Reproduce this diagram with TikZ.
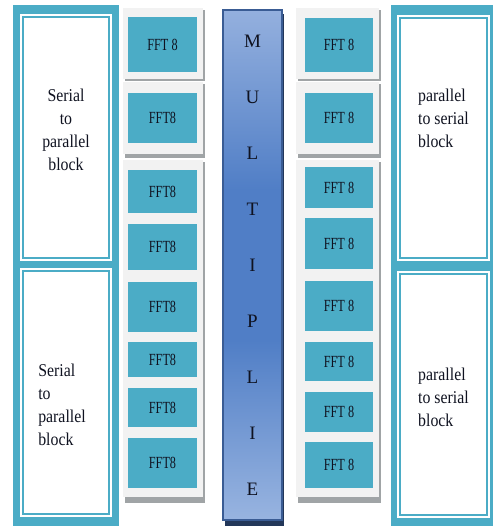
\documentclass[tikz,border=0pt]{standalone}
\usepackage{fontspec}
\setmainfont{Liberation Serif}
\newfontfamily\fftfont{Liberation Serif}[FakeStretch=0.72]
\newfontfamily\sidefont{Liberation Serif}[FakeStretch=0.88]
\definecolor{aqua}{RGB}{75,172,198}
\definecolor{panel}{RGB}{242,242,242}
\definecolor{panelshade}{RGB}{160,164,166}
\definecolor{multtop}{RGB}{148,176,222}
\definecolor{multmid}{RGB}{80,126,198}
\definecolor{multbot}{RGB}{152,180,224}
\definecolor{multedge}{RGB}{58,92,148}
\definecolor{inkdark}{RGB}{15,18,32}

\begin{document}
\begin{tikzpicture}[x=1pt, y=-1pt,
  fftbox/.style={rectangle, fill=aqua, text=inkdark, inner sep=0pt,
                 font=\fftfont\fontsize{17}{19}\selectfont},
  spbox/.style={rectangle, fill=white, draw=aqua, line width=2pt,
                double=white, double distance=2pt},
  sidetext/.style={align=left, text=inkdark,
                   font=\sidefont\fontsize{18}{23}\selectfont}
]
  \useasboundingbox (0,0) rectangle (493,526);

  % Outer aqua frames
  \fill[aqua] (13,5) rectangle (119,526);
  \fill[aqua] (391,5) rectangle (493,526);

  % Serial to parallel blocks
  \node[spbox, minimum width=90pt, minimum height=245pt] (sp1) at (66,137.5) {};
  \node[spbox, minimum width=90pt, minimum height=247pt] (sp2) at (66,392.5) {};
  \node[sidetext, align=center] (spTxt1) at ([yshift=8pt]sp1.center)
    {Serial\\to\\parallel\\block};
  \node[sidetext] (spTxt2) at ([xshift=-4pt,yshift=-12pt]sp2.center)
    {Serial\\to\\parallel\\block};

  % Parallel to serial blocks
  \node[spbox, minimum width=91pt, minimum height=244pt] (ps1) at (443.5,138) {};
  \node[spbox, minimum width=91pt, minimum height=245pt] (ps2) at (443.5,394.5) {};
  \node[sidetext] (psTxt1) at ([yshift=20pt]ps1.center)
    {parallel\\to serial\\block};
  \node[sidetext] (psTxt2) at ([yshift=-3pt]ps2.center)
    {parallel\\to serial\\block};

  % Grey panels behind the FFT columns
  \foreach \xa/\xb in {123/203, 296/379}
    \foreach \ya/\yb/\sh in {8/79/2, 82/154/4, 160/497/6} {
      \fill[panelshade] (\xa+2,\ya+2) rectangle (\xb+2,\yb+\sh);
      \fill[panel] (\xa,\ya) rectangle (\xb,\yb);
    }

  % FFT blocks, left column
  \foreach \n/\ya/\yb/\txt in {1/17/72/FFT 8, 2/93/143/FFT8, 3/170/213/FFT8,
      4/224/270/FFT8, 5/282/332/FFT8, 6/342/377/FFT8, 7/388/427/FFT8, 8/438/488/FFT8}
    \node[fftbox, minimum width=69pt, minimum height={(\yb-\ya)*1pt}]
      (fftL\n) at (162.5,{(\ya+\yb)/2}) {\txt};

  % FFT blocks, right column
  \foreach \n/\ya/\yb in {1/18/72, 2/93/143, 3/167/208, 4/218/269,
      5/281/331, 6/342/381, 7/392/432, 8/442/488}
    \node[fftbox, minimum width=68pt, minimum height={(\yb-\ya)*1pt}]
      (fftR\n) at (339,{(\ya+\yb)/2}) {FFT 8};

  % Multiplier: shadow, gradient, then outline and letters
  \fill[multedge!60!black] (225,14) rectangle (284,526);
  \shade[top color=multtop, bottom color=multmid] (223,10) rectangle (282,190);
  \fill[multmid] (223,189.5) rectangle (282,340.5);
  \shade[top color=multmid, bottom color=multbot] (223,340) rectangle (282,520);
  \node[rectangle, draw=multedge, line width=1.5pt, minimum width=59pt,
        minimum height=510pt, align=center, text=inkdark,
        font=\fontsize{19}{56}\selectfont] (mult) at (252.5,265)
    {M\\U\\L\\T\\I\\P\\L\\I\\E};
\end{tikzpicture}
\end{document}
